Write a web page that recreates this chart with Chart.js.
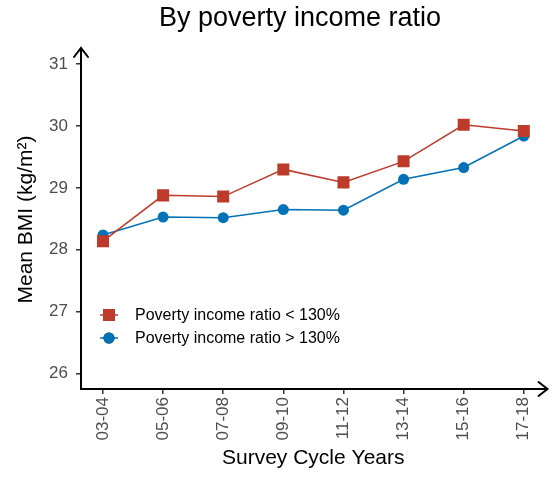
<!DOCTYPE html>
<html>
<head>
<meta charset="utf-8">
<title>Mean BMI by poverty income ratio</title>
<script src="https://cdn.jsdelivr.net/npm/chart.js@4/dist/chart.umd.min.js"></script>
<style>
  html, body { margin: 0; padding: 0; background: #fff; }
  #wrap { width: 554px; height: 477px; }
</style>
</head>
<body>
<div id="wrap"><canvas id="bmiChart" width="554" height="477"></canvas></div>
<script>
// NHANES survey cycles and mean BMI per group
const cycles = ['03-04', '05-06', '07-08', '09-10', '11-12', '13-14', '15-16', '17-18'];
const lowIncomeBmi = [28.14, 28.88, 28.86, 29.30, 29.09, 29.43, 30.02, 29.92];
const highIncomeBmi = [28.24, 28.53, 28.52, 28.65, 28.64, 29.14, 29.33, 29.84];
const yTicks = [26, 27, 28, 29, 30, 31];

const RED = '#BE3A2A';
const BLUE = '#0072B5';
const FONT = "'Liberation Sans', Arial, Helvetica, sans-serif";

Chart.defaults.font.family = FONT;

const toPoints = (arr) => arr.map((v, i) => ({ x: i, y: v }));

// Title centred over the panel
const headerTitle = {
  id: 'headerTitle',
  afterDraw(chart) {
    const ctx = chart.ctx;
    ctx.save();
    ctx.font = `27px ${FONT}`;
    ctx.fillStyle = '#000';
    ctx.textAlign = 'center';
    ctx.textBaseline = 'middle';
    ctx.fillText('By poverty income ratio', 300, 19);
    ctx.restore();
  }
};

// Open arrow heads at the ends of both axes
const axisArrows = {
  id: 'axisArrows',
  afterDraw(chart) {
    const { left, top, right, bottom } = chart.chartArea;
    const ctx = chart.ctx;
    const s = 7;
    ctx.save();
    ctx.strokeStyle = '#000';
    ctx.lineWidth = 2;
    ctx.lineCap = 'round';
    ctx.lineJoin = 'miter';
    ctx.beginPath();
    ctx.moveTo(left - s, top + s);
    ctx.lineTo(left, top - 2);
    ctx.lineTo(left + s, top + s);
    ctx.moveTo(left, top);
    ctx.lineTo(left, top + 4);
    ctx.moveTo(right - s, bottom - s);
    ctx.lineTo(right + 2, bottom);
    ctx.lineTo(right - s, bottom + s);
    ctx.moveTo(right - 4, bottom);
    ctx.lineTo(right, bottom);
    ctx.stroke();
    ctx.restore();
  }
};

// Legend drawn inside the panel, line + marker keys
const insideLegend = {
  id: 'insideLegend',
  afterDatasetsDraw(chart) {
    const { left } = chart.chartArea;
    const ctx = chart.ctx;
    const rows = [315, 338];
    ctx.save();
    chart.data.datasets.forEach((ds, i) => {
      const y = rows[i];
      const cx = left + 28;
      ctx.strokeStyle = ds.borderColor;
      ctx.lineWidth = 1.5;
      ctx.beginPath();
      ctx.moveTo(cx - 9, y);
      ctx.lineTo(cx + 9, y);
      ctx.stroke();
      Chart.helpers.drawPoint(ctx, {
        pointStyle: ds.pointStyle,
        radius: ds.pointRadius,
        borderWidth: 0
      }, cx, y);
      ctx.fillStyle = ds.backgroundColor;
      ctx.fill();
      ctx.fillStyle = '#000';
      ctx.font = `16px ${FONT}`;
      ctx.textAlign = 'left';
      ctx.textBaseline = 'middle';
      ctx.fillText(ds.label, left + 54, y + 1);
    });
    ctx.restore();
  }
};

const ctx = document.getElementById('bmiChart');

new Chart(ctx, {
  type: 'line',
  data: {
    datasets: [
      {
        label: 'Poverty income ratio < 130%',
        data: toPoints(lowIncomeBmi),
        borderColor: RED,
        backgroundColor: RED,
        borderWidth: 1.5,
        pointStyle: 'rect',
        pointRadius: 8.5,
        pointHoverRadius: 8.5,
        pointBorderWidth: 0,
        tension: 0
      },
      {
        label: 'Poverty income ratio > 130%',
        data: toPoints(highIncomeBmi),
        borderColor: BLUE,
        backgroundColor: BLUE,
        borderWidth: 1.5,
        pointStyle: 'circle',
        pointRadius: 5.5,
        pointHoverRadius: 5.5,
        pointBorderWidth: 0,
        tension: 0
      }
    ]
  },
  options: {
    responsive: false,
    animation: false,
    devicePixelRatio: 1,
    layout: { padding: { top: 50, right: 2, left: 0, bottom: 0 } },
    plugins: {
      legend: { display: false },
      title: { display: false },
      tooltip: { enabled: false }
    },
    scales: {
      x: {
        type: 'linear',
        min: -0.366,
        max: 7.361,
        afterFit(scale) { scale.height = 88; },
        afterBuildTicks(scale) {
          scale.ticks = cycles.map((c, i) => ({ value: i }));
        },
        ticks: {
          autoSkip: false,
          maxRotation: 90,
          minRotation: 90,
          padding: 3,
          color: '#4D4D4D',
          font: { size: 17 },
          callback: (v) => cycles[v]
        },
        grid: {
          drawOnChartArea: false,
          tickLength: 5,
          tickColor: '#333',
          lineWidth: 1.5
        },
        border: { color: '#000', width: 2 },
        title: {
          display: true,
          text: 'Survey Cycle Years',
          color: '#000',
          font: { size: 21 },
          padding: { top: 0, bottom: 6 }
        }
      },
      y: {
        min: 25.75,
        max: 31.23,
        afterFit(scale) { scale.width = 81; },
        afterBuildTicks(scale) {
          scale.ticks = yTicks.map((v) => ({ value: v }));
        },
        ticks: {
          padding: 8,
          color: '#4D4D4D',
          font: { size: 17 }
        },
        grid: {
          drawOnChartArea: false,
          tickLength: 5,
          tickColor: '#333',
          lineWidth: 1.5
        },
        border: { color: '#000', width: 2 },
        title: {
          display: true,
          text: 'Mean BMI (kg/m²)',
          color: '#000',
          font: { size: 21 },
          padding: { top: 14, bottom: 0 }
        }
      }
    }
  },
  plugins: [headerTitle, axisArrows, insideLegend]
});
</script>
</body>
</html>
